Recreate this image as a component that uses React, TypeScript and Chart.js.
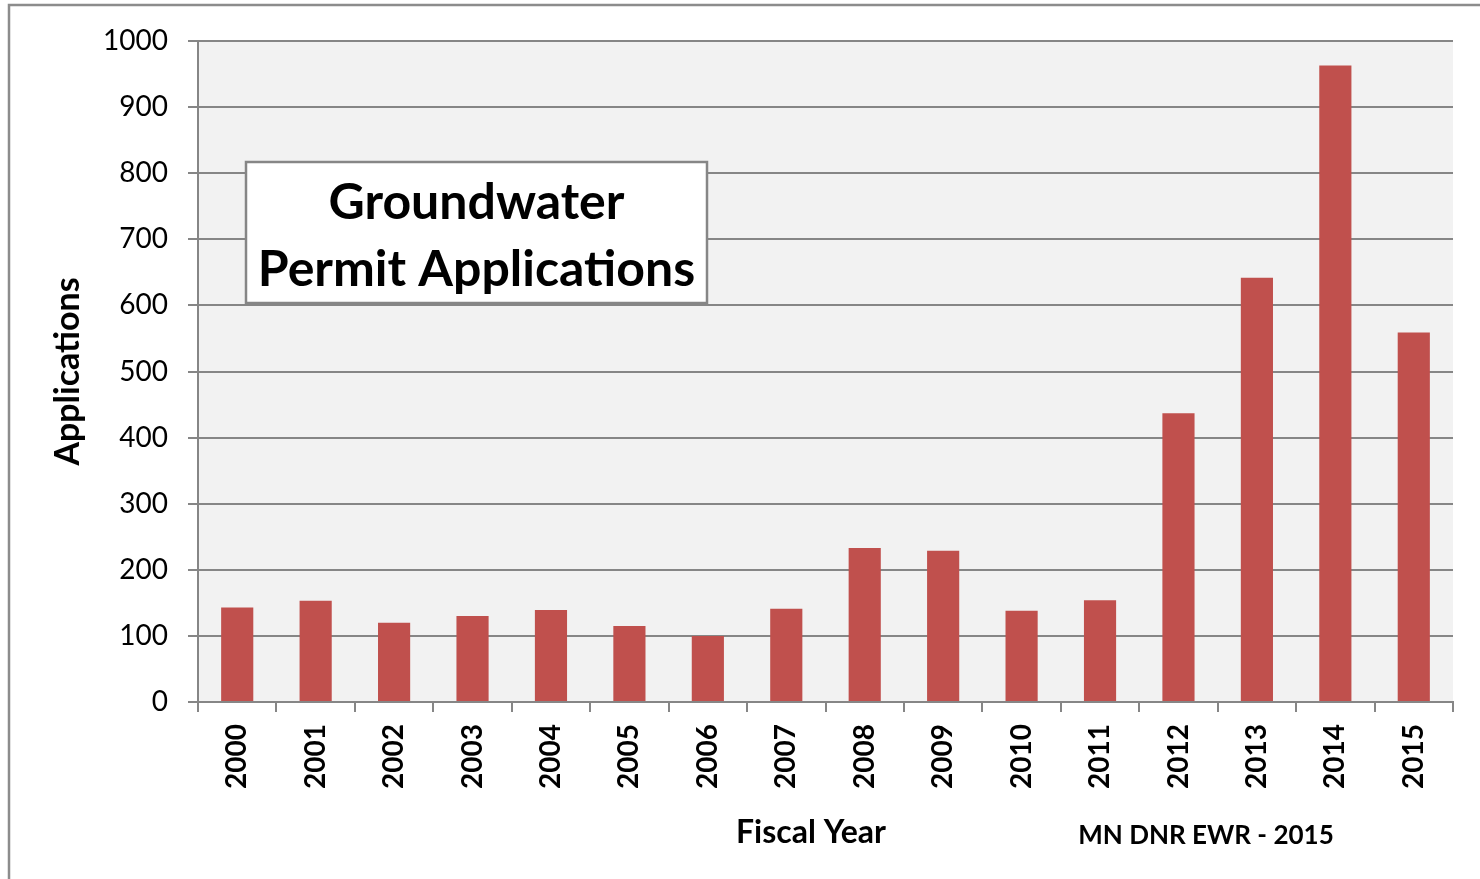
import React, { useEffect, useRef } from "react";
import { Chart, registerables } from "chart.js";

Chart.register(...registerables);

const years: string[] = [
  "2000", "2001", "2002", "2003", "2004", "2005", "2006", "2007",
  "2008", "2009", "2010", "2011", "2012", "2013", "2014", "2015",
];
const applications: number[] = [
  143, 153, 120, 130, 139, 115, 100, 141,
  233, 229, 138, 154, 437, 642, 963, 559,
];
const yTickStep = 100;
const yMax = 1000;
const chartTitleLines: string[] = ["Groundwater", "Permit Applications"];
const xAxisTitle = "Fiscal Year";
const yAxisTitle = "Applications";
const sourceNote = "MN DNR EWR - 2015";

const FONT = "Lato, 'Open Sans', sans-serif";
const GRID = "#868686";

const decorPlugin = {
  id: "decor",
  beforeDraw(chart: any) {
    const { ctx, chartArea } = chart;
    ctx.save();
    ctx.fillStyle = "#ffffff";
    ctx.fillRect(0, 0, chart.width, chart.height);
    // outer frame
    ctx.strokeStyle = "#8c8c8c";
    ctx.lineWidth = 2.5;
    ctx.strokeRect(9, 5, chart.width + 20, chart.height + 20);
    // plot background
    ctx.fillStyle = "#f2f2f2";
    ctx.fillRect(chartArea.left, chartArea.top, chartArea.right - chartArea.left, chartArea.bottom - chartArea.top);
    ctx.restore();
  },
  afterDraw(chart: any) {
    const { ctx } = chart;
    ctx.save();
    // title box
    const bx = 246, by = 162, bw = 461, bh = 141;
    ctx.fillStyle = "#ffffff";
    ctx.fillRect(bx, by, bw, bh);
    ctx.strokeStyle = GRID;
    ctx.lineWidth = 2.5;
    ctx.strokeRect(bx, by, bw, bh);
    ctx.fillStyle = "#000000";
    ctx.textAlign = "center";
    ctx.textBaseline = "alphabetic";
    ctx.font = `bold 50px ${FONT}`;
    ctx.fillText(chartTitleLines[0], bx + bw / 2, 219);
    ctx.fillText(chartTitleLines[1], bx + bw / 2, 286);
    // x axis title
    ctx.font = `bold 32px ${FONT}`;
    ctx.fillText(xAxisTitle, 811, 843);
    // source
    ctx.font = `bold 26px ${FONT}`;
    ctx.fillText(sourceNote, 1206, 844);
    ctx.restore();
  },
};

function ChartView() {
  const ref = useRef<HTMLCanvasElement | null>(null);
  useEffect(() => {
    let chart: Chart | null = null;
    let cancelled = false;
    const make = () => {
      if (cancelled || !ref.current) return;
      chart = new Chart(ref.current, {
        type: "bar",
        data: {
          labels: years,
          datasets: [
            {
              label: "Applications",
              data: applications,
              backgroundColor: "#c0504d",
              borderWidth: 0,
              categoryPercentage: 1,
              barPercentage: 0.41,
            },
          ],
        },
        options: {
          responsive: false,
          animation: false,
          devicePixelRatio: 1,
          layout: { padding: { left: 0, right: 27, top: 41, bottom: 0 } },
          plugins: {
            legend: { display: false },
            tooltip: { enabled: false },
            title: { display: false },
          },
          scales: {
            x: {
              grid: {
                display: true,
                drawOnChartArea: false,
                drawTicks: true,
                tickLength: 10,
                color: GRID,
                lineWidth: 2,
                offset: true,
              },
              border: { display: true, color: GRID, width: 2 },
              ticks: {
                color: "#000000",
                font: { family: FONT, size: 28, weight: "bold" },
                minRotation: 90,
                maxRotation: 90,
                padding: 12,
                autoSkip: false,
              },
              afterFit: (s: any) => {
                s.height = 177;
              },
            },
            y: {
              min: 0,
              max: yMax,
              grid: { color: GRID, lineWidth: 2, tickLength: 10 },
              border: { display: true, color: GRID, width: 2 },
              ticks: {
                stepSize: yTickStep,
                color: "#000000",
                font: { family: FONT, size: 28, weight: "normal" },
                padding: 20,
                callback: (v: any) => String(v),
              },
              title: {
                display: true,
                text: yAxisTitle,
                color: "#000000",
                font: { family: FONT, size: 34, weight: "bold" },
                padding: { top: 48, bottom: 0 },
              },
              afterFit: (s: any) => {
                s.width = 198;
              },
            },
          },
        },
        plugins: [decorPlugin],
      });
    };
    const fontsApi = (document as any).fonts;
    if (fontsApi && fontsApi.load) {
      Promise.all([
        fontsApi.load("bold 28px Lato"),
        fontsApi.load("28px Lato"),
      ]).then(make, make);
    } else {
      make();
    }
    return () => {
      cancelled = true;
      if (chart) chart.destroy();
    };
  }, []);
  return (
    <canvas
      ref={ref}
      width={1480}
      height={879}
      style={{ display: "block", width: 1480, height: 879 }}
    />
  );
}

export default function App() {
  return (
    <div style={{ position: "absolute", left: 0, top: 0, width: 1480, height: 879, background: "#fff" }}>
      <ChartView />
    </div>
  );
}
